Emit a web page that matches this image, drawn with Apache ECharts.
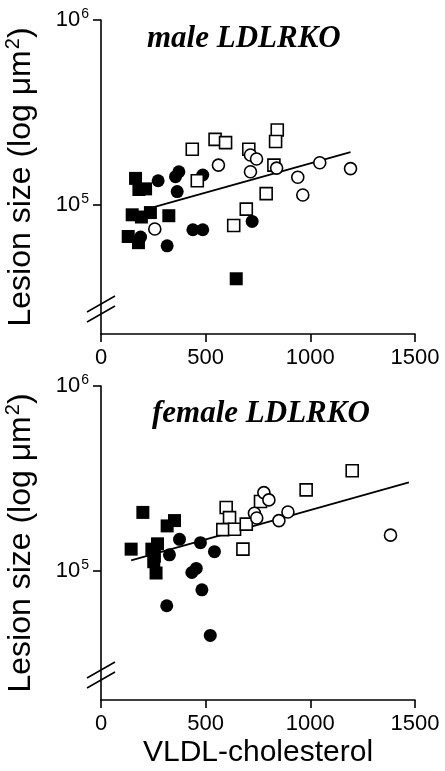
<!DOCTYPE html>
<html>
<head>
<meta charset="utf-8">
<script src="https://cdn.jsdelivr.net/npm/echarts@6/dist/echarts.min.js"></script>
<style>
html,body{margin:0;padding:0;background:#fff;}
#chart{width:445px;height:771px;}
</style>
</head>
<body>
<div id="chart"></div>
<script>
// ---- data (x = VLDL-cholesterol, y = lesion size µm²) ----
const xTicks = [0, 500, 1000, 1500];
const yTicks = [100000, 1000000];
const panelTitles = ['male LDLRKO', 'female LDLRKO'];
const yTitle = '{t|Lesion size (log μm}{sup|2}{t|)}';
const xTitle = 'VLDL-cholesterol';

const maleFilledSq = [[165,139000],[181,121000],[213,122000],[149,88300],[193,85900],[236,90800],[324,87300],[130,67400],[179,62400],[646,39800]];
const maleFilledCi = [[273,135000],[372,151000],[356,142000],[364,118000],[486,145000],[189,66900],[316,60000],[439,73300],[486,73300],[722,81300]];
const maleOpenSq = [[436,200000],[545,226000],[595,217000],[706,200000],[842,254000],[834,220000],[826,164000],[460,135000],[789,115000],[694,94800],[634,77300]];
const maleOpenCi = [[561,164000],[714,186000],[743,177000],[714,151000],[839,158000],[940,141000],[1045,169000],[1192,157000],[964,113000],[257,74000]];
const maleFit = [[252,97300],[1192,193000]];

const femaleFilledSq = [[200,207000],[316,175000],[351,187000],[144,131000],[243,131000],[270,140000],[255,120000],[252,112000],[263,97300]];
const femaleFilledCi = [[375,148000],[327,122000],[475,142000],[542,127000],[434,97900],[455,103000],[482,78900],[314,64700],[522,44700]];
const femaleOpenSq = [[598,220000],[614,194000],[582,167000],[638,168000],[694,179000],[762,237000],[678,131000],[980,274000],[1200,348000]];
const femaleOpenCi = [[778,265000],[802,242000],[733,205000],[744,193000],[850,187000],[893,208000],[1383,156000]];
const femaleFit = [[144,114000],[1471,301000]];

const Y_MIN = 20000, Y_MAX = 1000000, X_MIN = 0, X_MAX = 1500;

const chart = echarts.init(document.getElementById('chart'), null, {renderer: 'canvas'});
const sans = 'Liberation Sans, Arial, Helvetica, sans-serif';
const serif = 'Liberation Serif, Times New Roman, serif';

function xAxis(i, withName) {
  return {
    type: 'value', gridIndex: i, min: X_MIN, max: X_MAX, interval: 500,
    axisLine: {show: true, onZero: false, lineStyle: {color: '#000', width: 1.6}},
    axisTick: {show: true, inside: false, length: 8, customValues: xTicks, lineStyle: {color: '#000', width: 1.6}},
    axisLabel: {customValues: xTicks, color: '#000', fontSize: 22, fontFamily: sans, margin: 13,
      formatter: function (v) { return String(v); }},
    splitLine: {show: false},
    name: withName ? xTitle : '',
    nameLocation: 'middle', nameGap: 38,
    nameTextStyle: {color: '#000', fontSize: 30, fontFamily: sans}
  };
}
function yAxis(i) {
  return {
    type: 'log', logBase: 10, gridIndex: i, min: Y_MIN, max: Y_MAX,
    axisLine: {show: true, onZero: false, lineStyle: {color: '#000', width: 1.6}},
    axisTick: {show: true, length: 8, customValues: yTicks, lineStyle: {color: '#000', width: 1.6}},
    axisLabel: {
      customValues: yTicks, margin: 12,
      formatter: function (v) { return '{b|10}{sup|' + Math.round(Math.log10(v)) + '}'; },
      rich: {
        b: {fontSize: 22, fontFamily: sans, color: '#000'},
        sup: {fontSize: 14, fontFamily: sans, color: '#000', verticalAlign: 'top', padding: [0, 0, 11, 1]}
      },
      color: '#000', fontSize: 22, fontFamily: sans
    },
    splitLine: {show: false},
    name: yTitle, nameLocation: 'middle', nameRotate: 90, nameGap: 62,
    nameTextStyle: {color: '#000', fontSize: 32, fontFamily: sans,
      rich: {
        t: {fontSize: 32, fontFamily: sans, color: '#000'},
        sup: {fontSize: 20, fontFamily: sans, color: '#000', padding: [0, 0, 16, 1]}
      }}
  };
}
function sc(name, data, i, symbol, filled, size) {
  return {
    name: name, type: 'scatter', xAxisIndex: i, yAxisIndex: i, data: data,
    symbol: symbol, symbolSize: size, z: filled ? 2 : 4,
    itemStyle: filled ? {color: '#000', opacity: 1} : {color: '#fff', borderColor: '#000', borderWidth: 1.6, opacity: 1},
    emphasis: {disabled: true}, animation: false
  };
}
function fit(data, i) {
  return {type: 'line', xAxisIndex: i, yAxisIndex: i, data: data, symbol: 'none', z: 3,
    lineStyle: {color: '#000', width: 1.8}, animation: false};
}

chart.setOption({
  backgroundColor: '#fff',
  animation: false,
  title: [
    {text: panelTitles[0], left: 142, top: 18, textStyle: {fontFamily: serif, fontStyle: 'italic', fontWeight: 'bold', fontSize: 31, color: '#000'}},
    {text: panelTitles[1], left: 147, top: 393, textStyle: {fontFamily: serif, fontStyle: 'italic', fontWeight: 'bold', fontSize: 31, color: '#000'}}
  ],
  grid: [
    {left: 101, top: 20, width: 314, height: 314, containLabel: false, outerBoundsMode: 'none'},
    {left: 101, top: 386, width: 314, height: 314, containLabel: false, outerBoundsMode: 'none'}
  ],
  xAxis: [xAxis(0, false), xAxis(1, true)],
  yAxis: [yAxis(0), yAxis(1)],
  series: [
    sc('male filled square', maleFilledSq, 0, 'rect', true, 13),
    sc('male filled circle', maleFilledCi, 0, 'circle', true, 13),
    fit(maleFit, 0),
    sc('male open square', maleOpenSq, 0, 'rect', false, 12),
    sc('male open circle', maleOpenCi, 0, 'circle', false, 12),
    sc('female filled square', femaleFilledSq, 1, 'rect', true, 13),
    sc('female filled circle', femaleFilledCi, 1, 'circle', true, 13),
    fit(femaleFit, 1),
    sc('female open square', femaleOpenSq, 1, 'rect', false, 12),
    sc('female open circle', femaleOpenCi, 1, 'circle', false, 12)
  ]
});

// axis-break slashes near the bottom of each y axis
function breakMarks() {
  const g = [];
  [0, 1].forEach(function (i) {
    const p = chart.convertToPixel({gridIndex: i}, [X_MIN, Y_MIN]);
    const x = p[0], yb = p[1];
    [-30, -20].forEach(function (off) {
      g.push({type: 'line', shape: {x1: x - 14, y1: yb + off + 8, x2: x + 14, y2: yb + off - 8},
        style: {stroke: '#000', lineWidth: 1.6}, z: 10});
    });
  });
  chart.setOption({graphic: g});
}
breakMarks();
</script>
</body>
</html>
